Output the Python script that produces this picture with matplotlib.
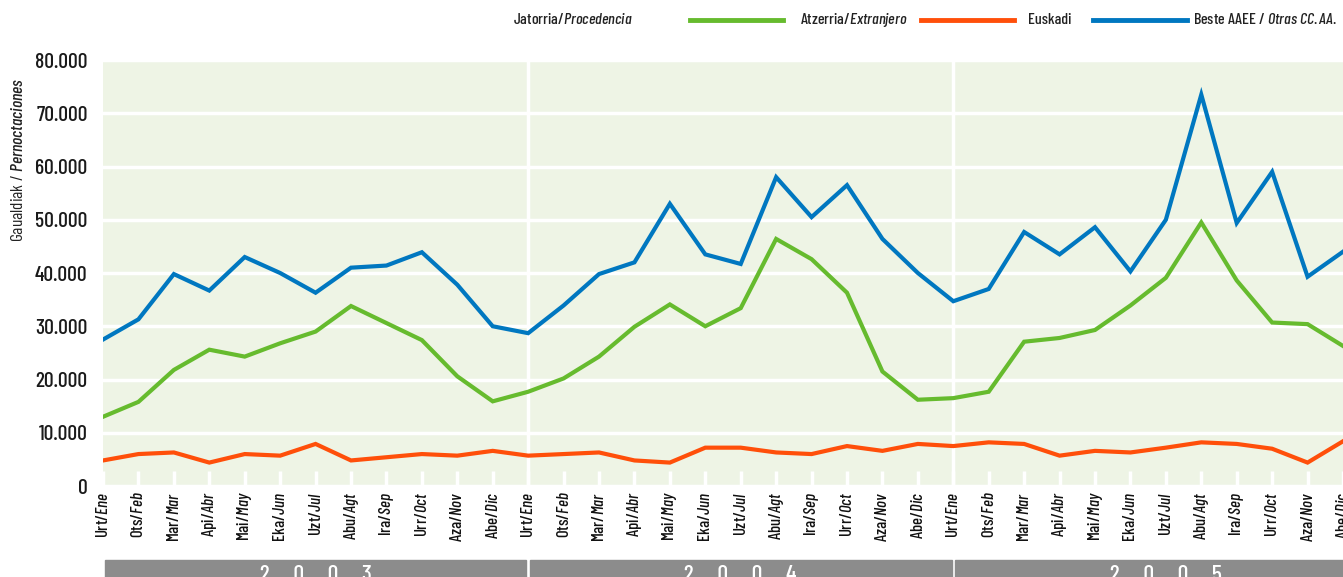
import matplotlib
matplotlib.use("Agg")
import matplotlib.pyplot as plt
from matplotlib.lines import Line2D
from matplotlib.patches import Rectangle
from matplotlib.ticker import FuncFormatter, MultipleLocator
import matplotlib.transforms as mtransforms

plt.rcParams["font.family"] = ["Barlow Condensed", "Archivo Narrow", "DejaVu Sans"]
plt.rcParams["font.weight"] = "medium"
plt.rcParams["mathtext.fontset"] = "custom"
plt.rcParams["mathtext.rm"] = "Barlow Condensed:medium"
plt.rcParams["mathtext.it"] = "Barlow Condensed:italic:medium"

years = ["2003", "2004", "2005"]
months_eu = ["Urt", "Ots", "Mar", "Api", "Mai", "Eka", "Uzt", "Abu", "Ira", "Urr", "Aza", "Abe"]
months_es = ["Ene", "Feb", "Mar", "Abr", "May", "Jun", "Jul", "Agt", "Sep", "Oct", "Nov", "Dic"]

# Gaualdiak / Pernoctaciones, thousands
extranjero = [13.0, 15.8, 21.8, 25.6, 24.3, 26.8, 29.0, 33.8, 30.6, 27.4, 20.6, 15.9,
              17.7, 20.2, 24.3, 29.9, 34.1, 30.0, 33.4, 46.4, 42.6, 36.3, 21.5, 16.2,
              16.5, 17.7, 27.1, 27.8, 29.3, 33.9, 39.1, 49.5, 38.6, 30.7, 30.4, 26.3]
euskadi = [4.8, 6.0, 6.3, 4.4, 6.0, 5.7, 7.9, 4.8, 5.4, 6.0, 5.7, 6.6,
           5.7, 6.0, 6.3, 4.8, 4.4, 7.2, 7.2, 6.3, 6.0, 7.5, 6.6, 7.9,
           7.5, 8.2, 7.9, 5.7, 6.6, 6.3, 7.2, 8.2, 7.9, 7.0, 4.4, 8.4]
otras = [27.5, 31.3, 39.8, 36.7, 43.0, 40.0, 36.3, 41.0, 41.4, 43.9, 37.8, 30.0,
         28.7, 33.9, 39.8, 42.0, 53.0, 43.5, 41.7, 58.0, 50.5, 56.5, 46.4, 40.0,
         34.7, 37.0, 47.7, 43.5, 48.6, 40.3, 50.0, 73.5, 49.4, 59.0, 39.3, 44.0]

GREEN = "#66bb2e"
ORANGE = "#ff4f0a"
BLUE = "#0077c0"
BG = "#eef4e5"
GREY = "#8c8c8c"

fig = plt.figure(figsize=(13.43, 5.77), dpi=100)
ax = fig.add_axes([0.0767, 0.1577, 0.9233, 0.7383])
ax.set_facecolor(BG)
for s in ax.spines.values():
    s.set_visible(False)

n = len(otras)
x = list(range(n))
vals = lambda a: [v * 1000 for v in a]
ax.plot(x, vals(extranjero), color=GREEN, lw=3, solid_joinstyle="miter", zorder=3)
ax.plot(x, vals(euskadi), color=ORANGE, lw=3, solid_joinstyle="miter", zorder=3)
ax.plot(x, vals(otras), color=BLUE, lw=3, solid_joinstyle="miter", zorder=3)

ax.set_ylim(0, 80000)
ax.set_xlim(0, 35.0)
ax.yaxis.set_major_locator(MultipleLocator(10000))
ax.yaxis.set_major_formatter(FuncFormatter(lambda v, p: f"{int(v):,}".replace(",", ".")))
ax.grid(axis="y", color="white", lw=2.5, zorder=1)
for k in (12, 24):
    ax.axvline(k, color="white", lw=2.5, zorder=1)
ax.tick_params(axis="y", length=0, pad=11, labelsize=15.5, labelcolor="#1a1a1a")

labels = [f"{months_eu[i % 12]}/$\\mathit{{{months_es[i % 12]}}}$" for i in range(n)]
ax.set_xticks(x)
ax.set_xticklabels(labels, rotation=90, fontsize=12, color="#111111")
ax.tick_params(axis="x", direction="in", color="white", length=11, width=2.5, pad=4)

ax.set_ylabel(r"Gaualdiak / $\mathit{Pernoctaciones}$", fontsize=12.5, color="#222222")
ax.yaxis.set_label_coords(-0.062, 0.765)

# year bands below the month labels
tr = mtransforms.blended_transform_factory(ax.transData, ax.transAxes)
for k, yr in enumerate(years):
    x0 = 12 * k + 0.05
    ax.add_patch(Rectangle((x0, -0.30), 11.9, 0.127, transform=tr, color=GREY,
                           clip_on=False, zorder=2))
    ax.text(12 * k + 6, -0.208, "     ".join(yr), transform=tr, ha="center", va="center",
            color="white", fontsize=17, clip_on=False)

# legend row
fy = 0.966
fs_leg = 11.5
fig.text(0.382, fy, r"Jatorria/$\mathit{Procedencia}$", fontsize=fs_leg, va="center", color="#222222")
items = [(GREEN, 0.5138, 0.583, 0.5957, r"Atzerria/$\mathit{Extranjero}$"),
         (ORANGE, 0.6858, 0.755, 0.7655, "Euskadi"),
         (BLUE, 0.8138, 0.8838, 0.888, r"Beste AAEE / $\mathit{Otras\ CC{.}AA{.}}$")]
for col, a, b, tx, lab in items:
    fig.add_artist(Line2D([a, b], [fy, fy], color=col, lw=3.5, transform=fig.transFigure))
    fig.text(tx, fy, lab, fontsize=fs_leg, va="center", color="#222222")

fig.savefig("out.png", dpi=100)
